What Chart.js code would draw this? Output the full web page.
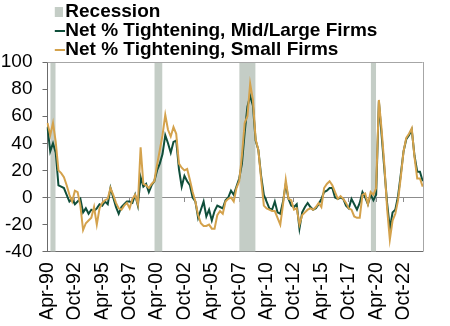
<!DOCTYPE html>
<html>
<head>
<meta charset="utf-8">
<script src="https://cdn.jsdelivr.net/npm/chart.js@4.4.0/dist/chart.umd.min.js"></script>
<style>
html,body{margin:0;padding:0;background:#fff;}
#wrap{width:450px;height:326px;}
</style>
</head>
<body>
<div id="wrap"><canvas id="c" width="450" height="326"></canvas></div>
<script>
// ---- data (quarterly, first quarter Apr-90) ----
const firstYear = 1990;
const firstQuarterIndex = 1; // 0=Jan,1=Apr,2=Jul,3=Oct
const monthNames = ['Jan', 'Apr', 'Jul', 'Oct'];

const midLarge = [
  52, 34, 40, 33, 9, 8, 7, 2, -3, -1,
  -5, -3, -1, -11, -8, -12, -9, -10, -8, -5,
  -6, -3, -5, 7, 0, -7, -12, -7, -5, -3,
  -3, -4, 2, -6, 15, 8, 10, 4, 9, 12,
  20, 25, 32, 46, 40, 33, 41, 42, 21, 8,
  16, 12, 9, 0, -3, -15, -9, -3, -14, -9,
  -17, -10, -6, -7, -8, -2, 0, 5, 2, 8,
  14, 25, 48, 67, 75, 68, 42, 35, 16, 2,
  -3, -8, -9, -3, -11, -12, -3, 10, -1, -6,
  -7, -5, -23, -11, -7, -4, -7, -9, -8, -5,
  -1, 4, 5, 7, 7, 0, -1, 0, -1, -6,
  -8, -1, -5, -9, -4, 4, 0, -5, 2, -2,
  2, 71, 46, 21, -4, -23, -11, -9, 1, 17,
  34, 43, 46, 50, 31, 19, 19, 12
];

const smallFirms = [
  55, 46, 55, 41, 20, 18, 15, 9, 2, -3,
  5, 4, -6, -24, -19, -17, -15, -7, -20, -8,
  -4, -2, -1, 7, 2, -4, -8, -9, -6, -4,
  -8, -1, 2, -5, 37, 10, 9, 7, 10, 12,
  24, 35, 46, 61, 50, 45, 52, 47, 25, 22,
  20, 21, 13, 4, -3, -13, -19, -21, -21, -20,
  -23, -23, -13, -10, -12, -3, -1, 0, -3, 7,
  12, 31, 55, 60, 84, 72, 43, 35, 14, -6,
  -8, -9, -10, -10, -15, -20, -5, 13, -1, -2,
  -9, -8, -20, -13, -11, -9, -8, -9, -7, -4,
  -7, 7, 10, 12, 9, 4, -1, 1, -1, -4,
  -8, -9, -14, -15, -15, 2, 3, -5, 4, 2,
  7, 72, 50, 24, -8, -31, -17, -12, -2, 15,
  34, 44, 47, 51, 30, 14, 14, 8
];

// recession shading: [from quarter, to quarter]
const recessionPeriods = [
  ['Jul-90', 'Jan-91'],
  ['Jan-00', 'Oct-00'],
  ['Oct-07', 'Apr-09'],
  ['Oct-19', 'Apr-20']
];

const tickLabels = ['Apr-90', 'Oct-92', 'Apr-95', 'Oct-97', 'Apr-00', 'Oct-02', 'Apr-05',
  'Oct-07', 'Apr-10', 'Oct-12', 'Apr-15', 'Oct-17', 'Apr-20', 'Oct-22'];

const seriesNames = ['Recession', 'Net % Tightening, Mid/Large Firms', 'Net % Tightening, Small Firms'];

// ---- derived labels ----
const quarterLabels = midLarge.map((_, i) => {
  const total = firstYear * 4 + firstQuarterIndex + i;
  const yr = Math.floor(total / 4);
  return monthNames[total % 4] + '-' + String(yr % 100).padStart(2, '0');
});
const recessionPoints = [];
recessionPeriods.forEach(([a, b]) => {
  recessionPoints.push({x: a, y: 1}, {x: b, y: 1}, {x: b, y: null});
});

// ---- styles ----
const GREEN = '#0f4e3a';
const GOLD = '#d4a24c';
const REC = '#c4cdc6';
const AXIS = '#6b6b6b';
const FRAME = '#a6a6a6';
const ZERO = '#8c8c8c';
const FONT = "'Liberation Sans', Arial, sans-serif";

Chart.defaults.font.family = FONT;
Chart.defaults.color = '#000';

function markImage(w, h, color, x0) {
  const c = document.createElement('canvas');
  c.width = w; c.height = h;
  const g = c.getContext('2d');
  g.fillStyle = color;
  g.fillRect(x0, 0, w - x0, h);
  return c;
}
const legendMarks = [
  markImage(16, 10, REC, 5),
  markImage(20, 2, GREEN, 6.5),
  markImage(20, 2, GOLD, 6.5)
];

const legendPlace = {
  id: 'legendPlace',
  afterLayout(chart) {
    const lg = chart.legend;
    const dx = chart.chartArea.left + 7.3 - lg.left;
    lg.left += dx; lg.right += dx;
    const dy = 2.5 - lg.top;
    lg.top += dy; lg.bottom += dy;
  }
};

const framePlugin = {
  id: 'frame',
  afterDatasetsDraw(chart) {
    const {ctx, chartArea: a} = chart;
    ctx.save();
    ctx.strokeStyle = FRAME;
    ctx.lineWidth = 1;
    ctx.beginPath();
    ctx.moveTo(a.left, Math.round(a.top) + 0.5);
    ctx.lineTo(a.right, Math.round(a.top) + 0.5);
    ctx.moveTo(Math.round(a.right) + 0.5, a.top);
    ctx.lineTo(Math.round(a.right) + 0.5, a.bottom);
    ctx.stroke();
    ctx.restore();
  }
};

new Chart(document.getElementById('c'), {
  type: 'line',
  data: {
    labels: quarterLabels,
    datasets: [
      {
        type: 'line', label: seriesNames[0], data: recessionPoints,
        xAxisID: 'x', yAxisID: 'yr', borderWidth: 0, borderColor: 'rgba(0,0,0,0)',
        backgroundColor: REC, fill: 'origin', pointRadius: 0, spanGaps: false,
        tension: 0, order: 3
      },
      {
        type: 'line', label: seriesNames[1], data: midLarge,
        xAxisID: 'x', yAxisID: 'y', borderColor: GREEN, backgroundColor: GREEN,
        borderWidth: 2, pointRadius: 0, tension: 0, fill: false, order: 2
      },
      {
        type: 'line', label: seriesNames[2], data: smallFirms,
        xAxisID: 'x', yAxisID: 'y', borderColor: GOLD, backgroundColor: GOLD,
        borderWidth: 2, pointRadius: 0, tension: 0, fill: false, order: 1
      }
    ]
  },
  options: {
    responsive: false,
    animation: false,
    devicePixelRatio: 1,
    layout: { padding: { top: 0, right: 27.3, bottom: 6.8, left: 1 } },
    plugins: {
      tooltip: { enabled: false },
      filler: { propagate: false },
      legend: {
        position: 'top',
        align: 'start',
        maxHeight: 62,
        labels: {
          usePointStyle: true,
          boxWidth: 1,
          padding: 0,
          color: '#000',
          font: { size: 19, weight: 'bold', family: FONT },
          generateLabels: chart => chart.data.datasets.map((ds, i) => ({
            text: ds.label,
            pointStyle: legendMarks[i],
            datasetIndex: i,
            hidden: false,
            lineWidth: 0,
            fillStyle: 'rgba(0,0,0,0)',
            strokeStyle: 'rgba(0,0,0,0)'
          }))
        }
      }
    },
    scales: {
      x: {
        type: 'category',
        offset: false,
        position: 'bottom',
        grid: { drawOnChartArea: false, drawTicks: false },
        border: { color: AXIS, width: 1 },
        afterFit: s => { s.height = 67.5; },
        ticks: {
          autoSkip: false, maxRotation: 90, minRotation: 90, padding: 10.5,
          font: { size: 19.5 }, color: '#000',
          callback: (v) => tickLabels.includes(quarterLabels[v]) ? quarterLabels[v] : null
        }
      },
      xz: {
        type: 'category',
        offset: false,
        position: { y: 0 },
        ticks: { display: false, autoSkip: false },
        grid: {
          drawOnChartArea: false, drawTicks: true, tickLength: 4,
          tickColor: c => tickLabels.includes(quarterLabels[c.index]) ? ZERO : 'rgba(0,0,0,0)'
        },
        border: { color: ZERO, width: 1 }
      },
      y: {
        min: -40, max: 100,
        afterFit: s => { s.width = 46.5; },
        ticks: { stepSize: 20, autoSkip: false, padding: 10, font: { size: 19 }, color: '#000' },
        grid: { drawOnChartArea: false, drawTicks: true, tickLength: 5, tickColor: AXIS },
        border: { color: AXIS, width: 1 }
      },
      yr: { display: false, min: 0, max: 1 }
    }
  },
  plugins: [legendPlace, framePlugin]
});
</script>
</body>
</html>
